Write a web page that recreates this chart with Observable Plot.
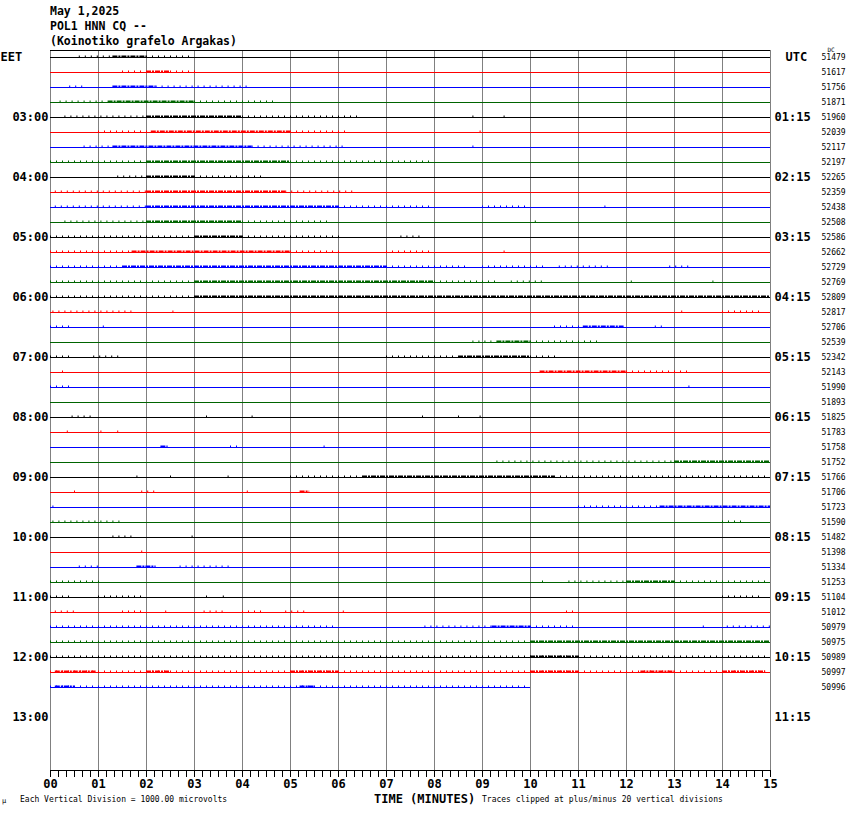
<!DOCTYPE html>
<html><head><meta charset="utf-8">
<script src="https://cdn.jsdelivr.net/npm/d3@7"></script>
<script src="https://cdn.jsdelivr.net/npm/@observablehq/plot@0.6"></script>
<style>
body{margin:0;background:#fff;}
#wrap{position:relative;width:850px;height:814px;font-family:"DejaVu Sans Mono",monospace;color:#000;}
#wrap svg{position:absolute;left:0;top:0;}
.t{position:absolute;white-space:pre;}
</style></head><body><div id="wrap"></div>
<script>
const titleLines = ["May 1,2025", "POL1 HNN CQ --", "(Koinotiko grafelo Argakas)"];
const traceColors = ["#000000", "#ff0000", "#0000ff", "#006400"];
const eetLabels = ["03:00","04:00","05:00","06:00","07:00","08:00","09:00","10:00","11:00","12:00","13:00"];
const utcLabels = ["01:15","02:15","03:15","04:15","05:15","06:15","07:15","08:15","09:15","10:15","11:15"];
const dcValues = [51479,51617,51756,51871,51960,52039,52117,52197,52265,52359,52438,52508,52586,52662,52729,52769,
  52809,52817,52706,52539,52342,52143,51990,51893,51825,51783,51758,51752,51766,51706,51723,51590,
  51482,51398,51334,51253,51104,51012,50979,50975,50989,50997,50996];
const minuteLabels = ["00","01","02","03","04","05","06","07","08","09","10","11","12","13","14","15"];
const lastTraceEndMinute = 10;
// [row, startMinute, endMinute, level(1 sparse, 2 dense)]
const activity = [
  [0,0.6,1.3,1],[0,1.3,2.0,2],[0,2.0,2.9,1],
  [1,1.5,2.0,1],[1,2.0,2.5,2],[1,2.5,3.1,1],
  [2,0.4,0.7,1],[2,1.3,2.2,2],[2,2.2,4.2,1],
  [3,0.2,1.2,1],[3,1.2,3.0,2],[3,3.0,4.7,1],
  [4,0.3,2.0,1],[4,2.0,4.0,2],[4,4.0,6.4,1],[4,8.8,8.85,1],[4,9.45,9.5,1],
  [5,1.0,2.1,1],[5,2.1,5.0,2],[5,5.0,6.2,1],[5,8.95,9.0,1],
  [6,0.7,1.3,1],[6,1.3,4.2,2],[6,4.2,6.2,1],[6,8.8,8.85,1],
  [7,0,2.0,1],[7,2.0,5.0,2],[7,5.0,8.0,1],
  [8,1.4,2.0,1],[8,2.0,3.0,2],[8,3.0,4.5,1],
  [9,0.1,2.0,1],[9,2.0,4.9,2],[9,4.9,6.3,1],
  [10,0.1,2.0,1],[10,2.0,6.0,2],[10,6.0,8.0,1],[10,9.0,10.0,1],[10,11.55,11.6,1],
  [11,0.3,2.0,1],[11,2.0,4.0,2],[11,4.0,5.8,1],[11,10.1,10.15,1],
  [12,0,3.0,1],[12,3.0,4.0,2],[12,4.0,6.1,1],[12,7.3,7.8,1],
  [13,0,1.7,1],[13,1.7,5.0,2],[13,5.0,6.1,1],[13,7.0,8.0,1],[13,9.45,9.5,1],
  [14,0,1.5,1],[14,1.5,7.0,2],[14,7.0,8.7,1],[14,9.0,10.3,1],[14,10.6,11.7,1],[14,12.9,13.3,1],
  [15,0,3.0,1],[15,3.0,8.0,2],[15,8.0,9.3,1],[15,9.6,10.3,1],[15,12.1,12.2,1],[15,13.8,13.85,1],
  [16,0,3.0,1],[16,3.0,15,2],
  [17,0.05,1.7,1],[17,2.55,2.6,1],[17,13.15,13.2,1],[17,14.0,14.8,1],
  [18,0,0.5,1],[18,1.1,1.15,1],[18,10.5,11.1,1],[18,11.1,11.95,2],[18,12.6,12.8,1],
  [19,8.8,9.3,1],[19,9.3,10.0,2],[19,10.0,11.4,1],
  [20,0,0.4,1],[20,0.9,1.5,1],[20,7.0,8.5,1],[20,8.5,10.0,2],[20,10.0,10.6,1],
  [21,0.25,0.3,1],[21,10.2,12.0,2],[21,12.0,13.3,1],[21,14.0,14.05,1],
  [22,0,0.5,1],[22,13.3,13.35,1],
  [24,0.45,0.95,1],[24,3.25,3.3,1],[24,4.2,4.25,1],[24,7.75,7.8,1],[24,8.5,8.55,1],[24,8.95,9.0,1],
  [25,0.35,0.4,1],[25,1.05,1.1,1],[25,1.4,1.45,1],
  [26,2.3,2.45,2],[26,3.75,3.9,1],[26,5.7,5.75,1],
  [27,9.3,13.0,1],[27,13.0,15,2],
  [28,1.8,1.85,1],[28,2.5,2.55,1],[28,3.7,3.8,1],[28,5.0,6.5,1],[28,6.5,10.5,2],[28,10.5,15,1],
  [29,0.5,0.55,1],[29,1.9,2.2,1],[29,4.1,4.15,1],[29,5.2,5.4,2],
  [30,0.05,0.1,1],[30,11.0,12.7,1],[30,12.7,15,2],
  [31,0.05,1.5,1],[31,14.0,14.5,1],
  [32,1.3,1.75,1],[32,2.95,3.0,1],
  [33,1.9,1.95,1],
  [34,0.6,1.0,1],[34,1.8,2.2,2],[34,2.7,3.8,1],
  [35,0,1.05,1],[35,10.25,10.35,1],[35,10.8,12.0,1],[35,12.0,13.0,2],[35,13.0,15,1],
  [36,0,0.5,1],[36,1.0,1.9,1],[36,3.25,3.3,1],[36,3.6,3.65,1],[36,14.0,14.8,1],
  [37,0.1,0.55,1],[37,1.5,2.0,1],[37,2.4,2.45,1],[37,3.2,3.7,1],[37,4.0,4.5,1],[37,4.9,5.4,1],[37,6.1,6.15,1],[37,10.75,11.0,1],
  [38,0,6.0,1],[38,7.8,9.2,1],[38,9.2,10.0,2],[38,10.0,11.0,1],[38,13.6,13.65,1],[38,14.1,15,1],
  [39,0,10.0,1],[39,10.0,15,2],
  [40,0,15,1],[40,10.0,11.0,2],
  [41,0,15,1],[41,0.1,0.95,2],[41,2.0,2.5,2],[41,5.0,6.0,2],[41,10.0,11.0,2],[41,12.3,13.0,2],[41,14.0,14.9,2],
  [42,0,10,1],[42,0.1,0.5,2],[42,5.2,5.5,2]
];

const FONT = "DejaVu Sans Mono";
const yTop = -7/15, yBottom = 713/15;
const rows = dcValues.map((dc, i) => ({row: i, dc, color: traceColors[i % 4], end: i === dcValues.length - 1 ? lastTraceEndMinute : 15}));
const segs = activity.map(([row, a, b, level]) => ({row, a, b, level, color: traceColors[row % 4]}));
const labelRows = eetLabels.map((t, k) => ({row: 4 * (k + 1), eet: t, utc: utcLabels[k]}));

const chart = Plot.plot({
  width: 850, height: 814,
  marginTop: 50, marginLeft: 50, marginRight: 80, marginBottom: 44,
  x: {domain: [0, 15]},
  y: {domain: [yTop, yBottom], reverse: true, axis: null},
  style: {background: "white", overflow: "visible"},
  marks: [
    Plot.ruleX(d3.range(0, 16), {y1: yTop, y2: yBottom, stroke: "#808080", strokeWidth: 1}),
    Plot.ruleY(rows, {y: "row", x1: 0, x2: "end", stroke: "color", strokeWidth: 1}),
    Plot.ruleY(segs.filter(d => d.level === 1), {y: "row", x1: "a", x2: "b", stroke: "color", strokeWidth: 2, dy: -1, strokeDasharray: "1,5"}),
    Plot.ruleY(segs.filter(d => d.level === 2), {y: "row", x1: "a", x2: "b", stroke: "color", strokeWidth: 2, dy: -1, strokeDasharray: "5,1,2,1"}),
    Plot.ruleY([yTop], {stroke: "black", strokeWidth: 1}),
    Plot.ruleY([yBottom], {stroke: "black", strokeWidth: 1}),
    Plot.axisX({anchor: "bottom", ticks: d3.range(0, 15.001, 1/6), tickSize: 7, tickFormat: () => "", label: null, stroke: "black"}),
    Plot.axisX({anchor: "bottom", ticks: d3.range(0, 16), tickSize: 7, tickPadding: 2, tickFormat: d => minuteLabels[d], label: null,
      fontSize: 12, fontWeight: "bold", fontFamily: FONT, fill: "black", stroke: "black"}),
    Plot.text(labelRows, {x: 0, y: "row", text: "eet", textAnchor: "end", dx: -2, fontSize: 12, fontWeight: "bold", fontFamily: FONT, fill: "black"}),
    Plot.text(labelRows, {x: 15, y: "row", text: "utc", textAnchor: "start", dx: 4, fontSize: 12, fontWeight: "bold", fontFamily: FONT, fill: "black"}),
    Plot.text(rows, {x: 15, y: "row", text: d => String(d.dc), textAnchor: "start", dx: 51, fontSize: 8, fontFamily: FONT, fill: "black"}),
    Plot.text(["EET"], {x: 0, y: 0, text: d => d, textAnchor: "start", dx: -50, fontSize: 12, fontWeight: "bold", fontFamily: FONT, fill: "black"}),
    Plot.text(["UTC"], {x: 15, y: 0, text: d => d, textAnchor: "start", dx: 15, fontSize: 12, fontWeight: "bold", fontFamily: FONT, fill: "black"}),
    Plot.text(["DC"], {x: 15, y: 0, text: d => d, textAnchor: "start", dx: 57, dy: -7, fontSize: 6, fontFamily: FONT, fill: "black"})
  ]
});
const wrap = document.getElementById("wrap");
wrap.appendChild(chart);

function addText(txt, left, top, size, weight, lh) {
  const d = document.createElement("div");
  d.className = "t";
  d.textContent = txt;
  d.style.left = left + "px"; d.style.top = top + "px";
  d.style.fontSize = size + "px"; d.style.fontWeight = weight;
  d.style.lineHeight = (lh || size + 2) + "px";
  wrap.appendChild(d);
}
addText(titleLines.join("\n"), 50, 4, 11.5, "bold", 15);
addText("TIME (MINUTES)", 374, 793, 12, "bold", 12);
addText("Each Vertical Division = 1000.00 microvolts", 20, 795, 8, "normal", 10);
addText("Traces clipped at plus/minus 20 vertical divisions", 482, 795, 8, "normal", 10);
addText("\u03bc", 2, 797, 7, "normal", 9);
</script></body></html>
